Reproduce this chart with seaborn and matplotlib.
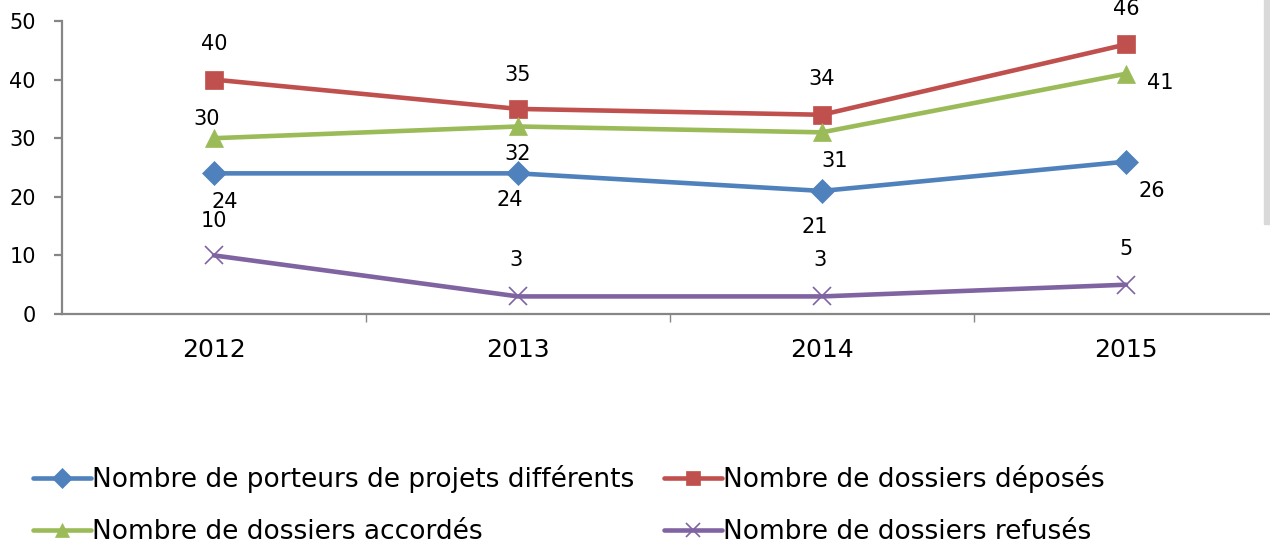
import pandas as pd
import matplotlib.pyplot as plt
import seaborn as sns
from matplotlib.patches import Rectangle

# Data
years = ["2012", "2013", "2014", "2015"]
porteurs = [24, 24, 21, 26]
deposes = [40, 35, 34, 46]
accordes = [30, 32, 31, 41]
refuses = [10, 3, 3, 5]

names = ["Nombre de porteurs de projets différents",
         "Nombre de dossiers déposés",
         "Nombre de dossiers accordés",
         "Nombre de dossiers refusés"]
colors = ["#4F81BD", "#C0504D", "#9BBB59", "#8064A2"]
markers = ["D", "s", "^", "x"]
msizes = [12.5, 13, 13, 13]

# label offsets in pixels (dx, dy up) for each point
offsets = [
    [(11, -29), (-8, -27), (-7, -36), (26, -29)],
    [(0, 36), (0, 34), (0, 36), (0, 35)],
    [(-7, 19), (0, -28), (13, -29), (34, -9)],
    [(0, 34), (-2, 36), (-2, 36), (0, 36)],
]

series = [porteurs, deposes, accordes, refuses]

sns.set_theme(style="white")
plt.rcParams['font.family'] = ['DejaVu Sans']
plt.rcParams['text.color'] = 'black'

fig = plt.figure(figsize=(12.7, 5.49), dpi=100)
ax = fig.add_axes([62 / 1270, 1 - 314 / 549, 1216 / 1270, 293 / 549])

handles = {}
for name, vals, c, m, ms, offs in zip(names, series, colors, markers, msizes, offsets):
    df = pd.DataFrame({"x": range(len(years)), "y": vals})
    sns.lineplot(data=df, x="x", y="y", ax=ax, color=c, linewidth=3.3,
                 marker=m, markersize=ms, markeredgecolor=c,
                 markeredgewidth=1.2 if m == "x" else 0.5, clip_on=False,
                 label=name, legend=False)
    handles[name] = ax.lines[-1]
    for i, v in enumerate(vals):
        dx, dy = offs[i]
        ax.annotate(str(v), (i, v), xytext=(dx * 0.72, dy * 0.72),
                    textcoords="offset points", ha="center", va="center",
                    fontsize=15, color="black", annotation_clip=False)

ax.set_xlim(-0.5, 3.5)
ax.set_ylim(0, 50)
ax.set_yticks(range(0, 51, 10))
ax.set_xticks(range(len(years)))
ax.set_xticklabels(years)
ax.set_xticks([0.5, 1.5, 2.5], minor=True)
ax.set_xlabel("")
ax.set_ylabel("")

for s in ["top", "right"]:
    ax.spines[s].set_visible(False)
for s in ["left", "bottom"]:
    ax.spines[s].set_color("#868686")
    ax.spines[s].set_linewidth(1.6)

ax.tick_params(axis="x", which="major", length=0, pad=17, labelsize=18,
               labelcolor="black")
ax.tick_params(axis="x", which="minor", length=5.8, width=1, color="#868686",
               direction="out", bottom=True)
ax.tick_params(axis="y", length=5.8, width=1.6, color="#868686", direction="out",
               left=True, pad=13, labelsize=15, labelcolor="black")
ax.grid(False)

order = [names[0], names[2], names[1], names[3]]
leg = fig.legend([handles[n] for n in order], order, loc="center left",
                 bbox_to_anchor=(33 / 1270, 1 - 505 / 549), ncol=2, frameon=False,
                 fontsize=19, handlelength=2.2, handletextpad=0.05,
                 columnspacing=1.1, labelspacing=1.0, borderpad=0,
                 borderaxespad=0, markerscale=0.8)
for t in leg.get_texts():
    t.set_color("black")

fig.patches.append(Rectangle((1264 / 1270, 1 - 224 / 549), 6 / 1270, 224 / 549,
                             transform=fig.transFigure, color="#D9D9D9"))

fig.savefig("out.png", dpi=100)
